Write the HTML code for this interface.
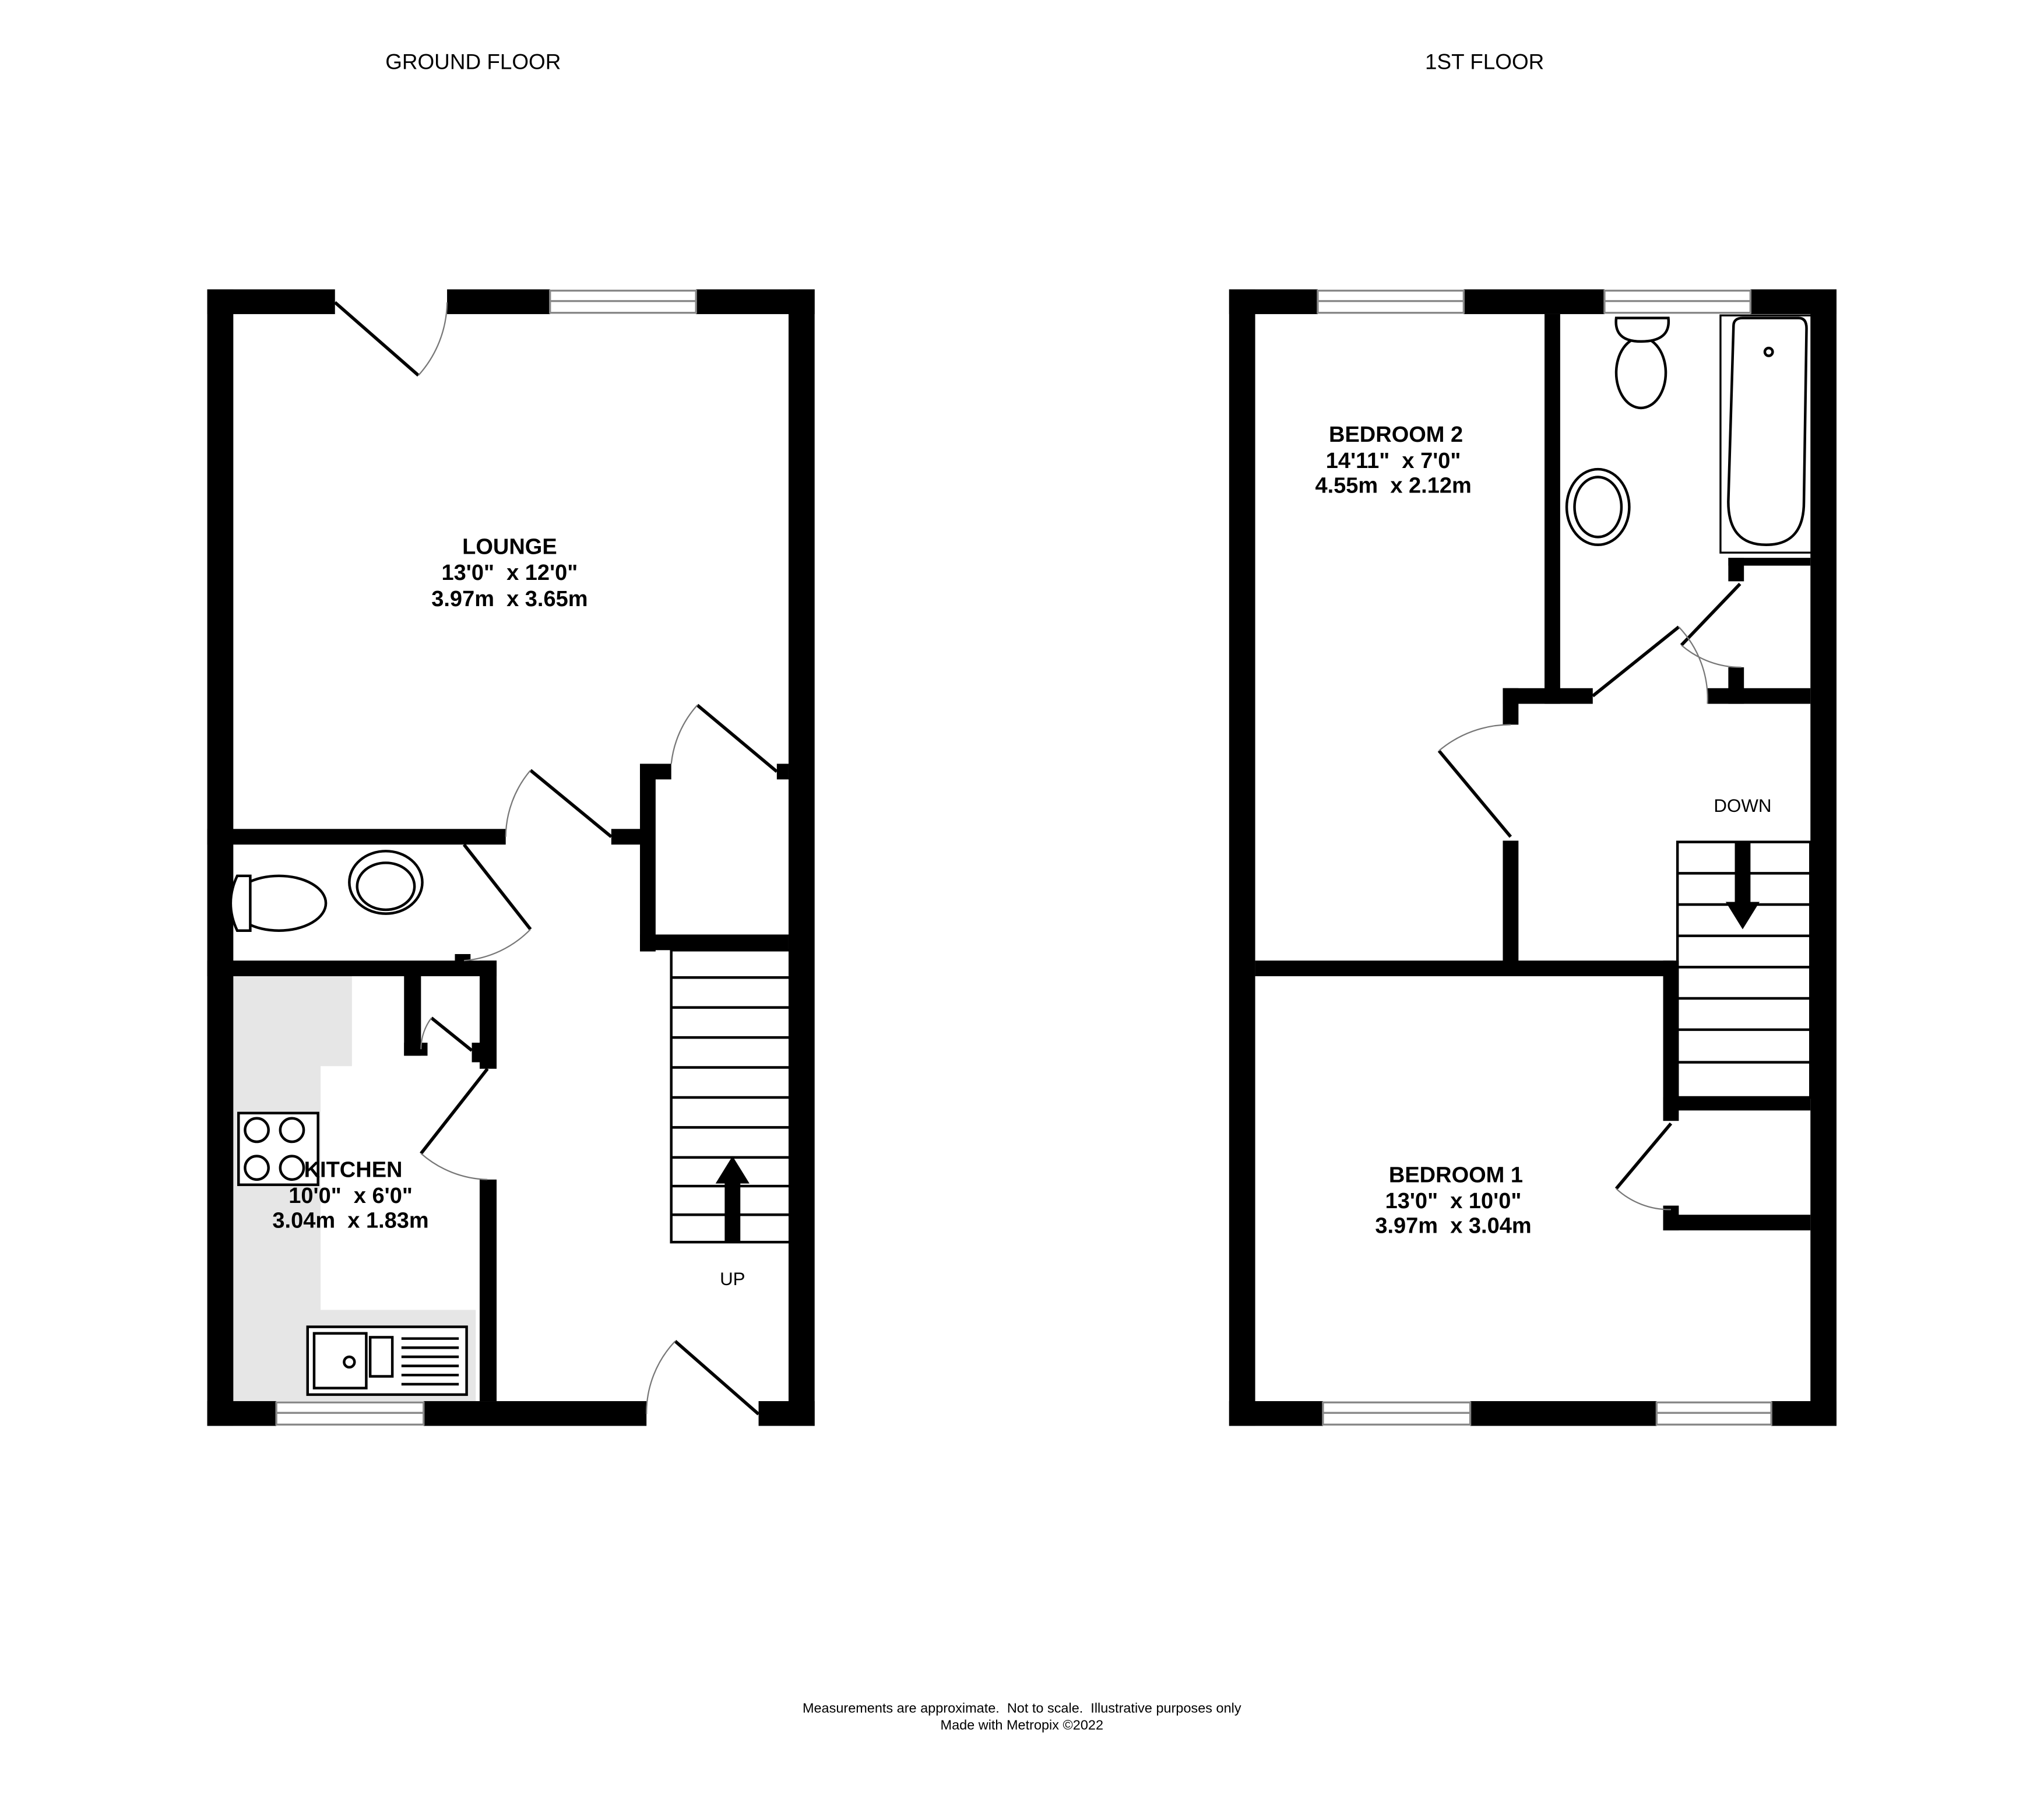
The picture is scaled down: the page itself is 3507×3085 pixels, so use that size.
<!DOCTYPE html>
<html><head><meta charset="utf-8"><style>
html,body{margin:0;padding:0;background:#fff;}
svg{display:block;}
text{font-family:"Liberation Sans",sans-serif;white-space:pre;}
</style></head><body>
<svg width="3507" height="3085" viewBox="0 0 1568.2 1379.5" xmlns="http://www.w3.org/2000/svg">
<rect width="1572.6" height="1383.4" fill="#fff"/>
<polygon points="179,749 270,749 270,818 246,818 246,1005 365,1005 365,1075 179,1075" fill="#e6e6e6"/>
<g fill="#000">
<rect x="159" y="222" width="98" height="19"/>
<rect x="343" y="222" width="79" height="19"/>
<rect x="534" y="222" width="91" height="19"/>
<rect x="159" y="222" width="20" height="872"/>
<rect x="605" y="222" width="20" height="872"/>
<rect x="159" y="1075" width="53" height="19"/>
<rect x="325" y="1075" width="171" height="19"/>
<rect x="582" y="1075" width="43" height="19"/>
<rect x="159" y="636" width="229" height="12"/>
<rect x="469" y="636" width="24" height="12"/>
<rect x="491" y="586" width="24" height="12"/>
<rect x="491" y="586" width="12" height="144"/>
<rect x="491" y="717" width="114" height="12"/>
<rect x="596" y="586" width="9" height="12"/>
<rect x="159" y="737" width="222" height="12"/>
<rect x="368" y="737" width="13" height="83"/>
<rect x="368" y="905" width="13" height="170"/>
<rect x="310" y="749" width="13" height="61"/>
<rect x="310" y="800" width="18" height="10"/>
<rect x="362" y="800" width="13" height="15"/>
<rect x="349" y="732" width="12" height="8"/>
<rect x="943" y="222" width="68" height="19"/>
<rect x="1123" y="222" width="108" height="19"/>
<rect x="1343" y="222" width="66" height="19"/>
<rect x="943" y="222" width="20" height="872"/>
<rect x="1389" y="222" width="20" height="872"/>
<rect x="943" y="1075" width="72" height="19"/>
<rect x="1128" y="1075" width="143" height="19"/>
<rect x="1359" y="1075" width="50" height="19"/>
<rect x="1185" y="241" width="12" height="299"/>
<rect x="1153" y="528" width="69" height="12"/>
<rect x="1153" y="528" width="12" height="28"/>
<rect x="1153" y="645" width="12" height="95"/>
<rect x="963" y="737" width="321" height="12"/>
<rect x="1276" y="737" width="12" height="123"/>
<rect x="1276" y="842" width="113" height="10"/>
<rect x="1276" y="932" width="113" height="12"/>
<rect x="1276" y="925" width="12" height="19"/>
<rect x="1310" y="528" width="79" height="12"/>
<rect x="1326" y="428" width="12" height="18"/>
<rect x="1326" y="512" width="12" height="28"/>
<rect x="1326" y="428" width="63" height="6"/>
</g>
<g fill="#fff" stroke="#888" stroke-width="1.5">
<rect x="422" y="223" width="112" height="17"/><line x1="422" y1="231" x2="534" y2="231"/>
<rect x="212" y="1076" width="113" height="17"/><line x1="212" y1="1084" x2="325" y2="1084"/>
<rect x="1011" y="223" width="112" height="17"/><line x1="1011" y1="231" x2="1123" y2="231"/>
<rect x="1231" y="223" width="112" height="17"/><line x1="1231" y1="231" x2="1343" y2="231"/>
<rect x="1015" y="1076" width="113" height="17"/><line x1="1015" y1="1084" x2="1128" y2="1084"/>
<rect x="1271" y="1076" width="88" height="17"/><line x1="1271" y1="1084" x2="1359" y2="1084"/>
</g>
<g stroke="#000" stroke-width="2.5" fill="none">
<line x1="257" y1="232" x2="321" y2="288"/>
<line x1="535" y1="541" x2="596" y2="592"/>
<line x1="407" y1="591" x2="469" y2="642"/>
<line x1="356" y1="648" x2="407" y2="713"/>
<line x1="323" y1="885" x2="374" y2="820"/>
<line x1="331" y1="781" x2="362" y2="806"/>
<line x1="518" y1="1029" x2="582" y2="1085"/>
<line x1="1104" y1="576" x2="1159" y2="642"/>
<line x1="1222" y1="534" x2="1288" y2="481"/>
<line x1="1290" y1="495" x2="1335" y2="448"/>
<line x1="1240" y1="912" x2="1282" y2="862"/>
</g>
<g stroke="#777" stroke-width="1" fill="none">
<path d="M321,288 A85,85 0 0 0 343,232"/>
<path d="M535,541 A80,80 0 0 0 515,586"/>
<path d="M407,591 A80,80 0 0 0 388,642"/>
<path d="M407,713 A80,80 0 0 1 356,737"/>
<path d="M323,885 A80,80 0 0 0 374,905"/>
<path d="M331,781 A40,40 0 0 0 323,805"/>
<path d="M518,1029 A80,80 0 0 0 496,1085"/>
<path d="M1104,576 A85,85 0 0 1 1159,556"/>
<path d="M1288,481 A80,80 0 0 1 1310,540"/>
<path d="M1290,495 A70,70 0 0 0 1336,512"/>
<path d="M1240,912 A60,60 0 0 0 1282,928"/>
</g>
<g stroke="#000" stroke-width="2" fill="none">
<rect x="515" y="729" width="92" height="224"/>
<line x1="515" y1="750" x2="607" y2="750"/><line x1="515" y1="773" x2="607" y2="773"/>
<line x1="515" y1="796" x2="607" y2="796"/><line x1="515" y1="819" x2="607" y2="819"/>
<line x1="515" y1="842" x2="607" y2="842"/><line x1="515" y1="865" x2="607" y2="865"/>
<line x1="515" y1="888" x2="607" y2="888"/><line x1="515" y1="910" x2="607" y2="910"/>
<line x1="515" y1="932" x2="607" y2="932"/>
<rect x="1287" y="646" width="102" height="196"/>
<line x1="1287" y1="670" x2="1389" y2="670"/><line x1="1287" y1="694" x2="1389" y2="694"/>
<line x1="1287" y1="718" x2="1389" y2="718"/><line x1="1287" y1="742" x2="1389" y2="742"/>
<line x1="1287" y1="766" x2="1389" y2="766"/><line x1="1287" y1="790" x2="1389" y2="790"/>
<line x1="1287" y1="815" x2="1389" y2="815"/>
</g>
<rect x="556" y="905" width="12" height="48" fill="#000"/>
<polygon points="549,908 575,908 562,887" fill="#000"/>
<rect x="1331" y="646" width="12" height="48" fill="#000"/>
<polygon points="1324,692 1350,692 1337,713" fill="#000"/>
<g stroke="#000" stroke-width="2" fill="#fff">
<ellipse cx="214" cy="693" rx="36" ry="21"/>
<path d="M182,672 Q172,693 182,714 L192,714 L192,672 Z"/>
<ellipse cx="296" cy="677" rx="28" ry="24"/>
<ellipse cx="296" cy="680" rx="22" ry="18"/>
<ellipse cx="1259" cy="286" rx="19" ry="27"/>
<path d="M1240,244 L1280,244 Q1282,262 1259,262 Q1238,262 1240,244 Z"/>
<ellipse cx="1226" cy="389" rx="24" ry="29"/>
<ellipse cx="1226" cy="389" rx="18" ry="23"/>
<rect x="1320" y="242" width="70" height="182" fill="none" stroke-width="1.5"/>
<path d="M1330,250 Q1330,244 1337,244 L1380,244 Q1386,244 1386,252 L1384,385 Q1384,418 1355,418 Q1326,418 1326,385 Z" fill="none"/>
<circle cx="1357" cy="270" r="3"/>
<rect x="183" y="854" width="61" height="55" fill="#fff"/>
<circle cx="197" cy="867" r="9"/><circle cx="224" cy="867" r="9"/>
<circle cx="197" cy="896" r="9"/><circle cx="224" cy="896" r="9"/>
<rect x="236" y="1018" width="122" height="52"/>
<rect x="241" y="1023" width="40" height="42"/>
<rect x="284" y="1026" width="17" height="30"/>
<circle cx="268" cy="1045" r="4"/>
</g>
<g stroke="#000" stroke-width="2">
<line x1="308" y1="1027" x2="352" y2="1027"/><line x1="308" y1="1034" x2="352" y2="1034"/>
<line x1="308" y1="1041" x2="352" y2="1041"/><line x1="308" y1="1048" x2="352" y2="1048"/>
<line x1="308" y1="1055" x2="352" y2="1055"/><line x1="308" y1="1062" x2="352" y2="1062"/>
</g>
<g font-size="16.5" text-anchor="middle" fill="#000">
<text x="363" y="53">GROUND FLOOR</text>
<text x="1139" y="53">1ST FLOOR</text>
</g>
<g font-size="17" text-anchor="middle" fill="#000" font-weight="bold">
<text x="391" y="425">LOUNGE</text>
<text x="391" y="445">13'0"  x 12'0"</text>
<text x="391" y="465">3.97m  x 3.65m</text>
<text x="271" y="903">KITCHEN</text>
<text x="269" y="923">10'0"  x 6'0"</text>
<text x="269" y="942">3.04m  x 1.83m</text>
<text x="1071" y="339">BEDROOM 2</text>
<text x="1069" y="359">14'11"  x 7'0"</text>
<text x="1069" y="378">4.55m  x 2.12m</text>
<text x="1117" y="907">BEDROOM 1</text>
<text x="1115" y="927">13'0"  x 10'0"</text>
<text x="1115" y="946">3.97m  x 3.04m</text>
</g>
<g font-size="14" text-anchor="middle" fill="#000">
<text x="562" y="986">UP</text>
<text x="1337" y="623">DOWN</text>
</g>
<g font-size="10.5" text-anchor="middle" fill="#000">
<text x="784" y="1314">Measurements are approximate.  Not to scale.  Illustrative purposes only</text>
<text x="784" y="1327">Made with Metropix ©2022</text>
</g>
</svg>
</body></html>
